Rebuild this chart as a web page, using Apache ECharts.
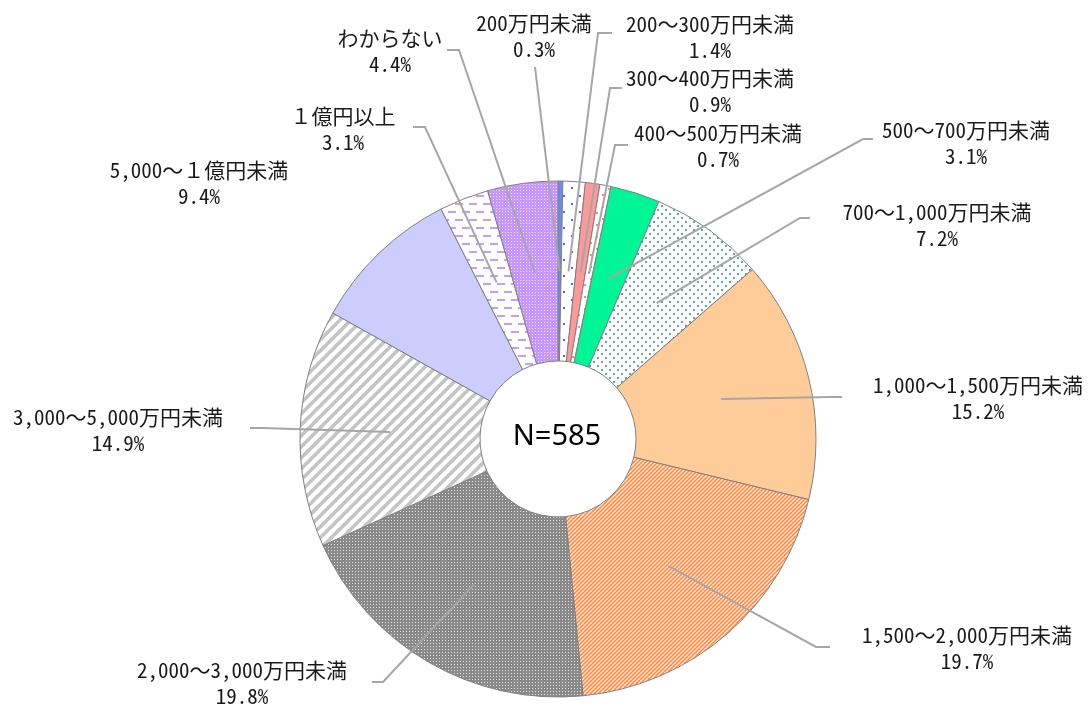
<!DOCTYPE html>
<html>
<head>
<meta charset="utf-8">
<script src="https://cdn.jsdelivr.net/npm/echarts@6/dist/echarts.min.js"></script>
<style>
  html, body { margin: 0; padding: 0; background: #ffffff; }
  #chart { width: 1090px; height: 707px; }
</style>
</head>
<body>
<div id="chart"></div>
<script>
// Household income brackets (clockwise from 12 o'clock) and their shares in %
const categories = [
  '200万円未満',
  '200～300万円未満',
  '300～400万円未満',
  '400～500万円未満',
  '500～700万円未満',
  '700～1,000万円未満',
  '1,000～1,500万円未満',
  '1,500～2,000万円未満',
  '2,000～3,000万円未満',
  '3,000～5,000万円未満',
  '5,000～１億円未満',
  '１億円以上',
  'わからない'
];
const shares = [0.3, 1.4, 0.9, 0.7, 3.1, 7.2, 15.2, 19.7, 19.8, 14.9, 9.4, 3.1, 4.4];
const sampleSize = 585;

// Ring geometry
const CX = 558, CY = 439, R_IN = 78, R_OUT = 258;

// Label placement: text block centre, then leader points (elbow, end)
const labelSpots = [
  { at: [534, 36],  line: [[535, 67], [535, 67]] },
  { at: [710, 37],  line: [[598, 33], [612, 33]] },
  { at: [710, 91],  line: [[610, 88], [622, 88]] },
  { at: [718, 146], line: [[615, 145], [628, 145]] },
  { at: [966, 143], line: [[863, 139], [873, 139]] },
  { at: [937, 225], line: [[800, 218], [810, 218]] },
  { at: [978, 398], line: [[830, 397], [842, 397]] },
  { at: [967, 648], line: [[816, 647], [830, 647]] },
  { at: [242, 683], line: [[383, 682], [372, 682]] },
  { at: [118, 430], line: [[262, 428], [250, 428]] },
  { at: [199, 183], line: null },
  { at: [343, 129], line: [[425, 127], [413, 127]] },
  { at: [390, 51],  line: [[459, 50], [447, 50]] }
];

// Tiled fills
function tile(w, h, draw) {
  const c = document.createElement('canvas');
  c.width = w; c.height = h;
  const g = c.getContext('2d');
  draw(g, w, h);
  return { image: c, repeat: 'repeat' };
}
function dots(w, h, bg, fg, r, pts) {
  return tile(w, h, function (g) {
    g.fillStyle = bg; g.fillRect(0, 0, w, h);
    g.fillStyle = fg;
    pts.forEach(function (p) { g.beginPath(); g.arc(p[0], p[1], r, 0, Math.PI * 2); g.fill(); });
  });
}
function stripes(size, bg, fg, lw) {
  return tile(size, size, function (g) {
    g.fillStyle = bg; g.fillRect(0, 0, size, size);
    g.strokeStyle = fg; g.lineWidth = lw; g.lineCap = 'square';
    [[-size, 0], [0, 0], [size, 0]].forEach(function (o) {
      g.beginPath();
      g.moveTo(o[0], size);
      g.lineTo(o[0] + size, 0);
      g.stroke();
    });
  });
}
function pixelGrid(bg, fg) {
  return tile(3, 3, function (g) {
    g.fillStyle = bg; g.fillRect(0, 0, 3, 3);
    g.fillStyle = fg; g.fillRect(1, 1, 1, 1);
  });
}
const dashes = tile(14, 16, function (g) {
  g.fillStyle = '#ffffff'; g.fillRect(0, 0, 14, 16);
  g.fillStyle = '#CC99FF';
  g.fillRect(0, 3, 8, 2);
  g.fillRect(7, 11, 8, 2);
  g.fillRect(-7, 11, 8, 2);
});

const fills = [
  '#6A8EEF',
  dots(16, 16, '#ffffff', '#6060F0', 1.2, [[4, 4], [12, 12]]),
  '#FF9999',
  dots(12, 12, '#ffffff', '#FF6666', 1.1, [[3, 3], [9, 9]]),
  '#00F596',
  dots(8, 8, '#ffffff', '#2A8A8A', 1.0, [[2, 2], [6, 6]]),
  '#FFCC99',
  stripes(4, '#ffffff', '#FF8A3D', 1.6),
  pixelGrid('#8A8A8A', '#E2E2E2'),
  stripes(11, '#ffffff', '#C4C4C4', 3.6),
  '#CCCCFF',
  dashes,
  pixelGrid('#C795FF', '#F3E8FF')
];

const ringData = categories.map(function (name, i) {
  return { name: name, value: shares[i], itemStyle: { color: fills[i] } };
});

// Same slices again, invisible, carrying labels and leaders above the ring
const labelData = categories.map(function (name, i) {
  const item = { name: name, value: shares[i] };
  if (!labelSpots[i].line) item.labelLine = { show: false };
  return item;
});

const chart = echarts.init(document.getElementById('chart'), null, { renderer: 'canvas' });

chart.setOption({
  animation: false,
  backgroundColor: '#ffffff',
  graphic: [{
    type: 'text',
    z: 10,
    style: {
      text: 'N=' + sampleSize,
      x: 557, y: 437,
      textAlign: 'center',
      textVerticalAlign: 'middle',
      font: '29px "Noto Sans", sans-serif',
      fill: '#000000'
    }
  }],
  series: [{
    type: 'pie',
    z: 2,
    center: [CX, CY],
    radius: [R_IN, R_OUT],
    startAngle: 90,
    clockwise: true,
    silent: true,
    itemStyle: { borderColor: '#808080', borderWidth: 1 },
    label: { show: false },
    labelLine: { show: false },
    data: ringData
  }, {
    type: 'pie',
    z: 4,
    center: [CX, CY],
    radius: [R_IN, R_OUT],
    startAngle: 90,
    clockwise: true,
    silent: true,
    avoidLabelOverlap: false,
    itemStyle: { color: 'rgba(0,0,0,0)', borderWidth: 0 },
    label: {
      show: true,
      position: 'outside',
      color: '#1a1a1a',
      fontSize: 21,
      lineHeight: 26,
      fontFamily: '"Noto Sans Mono CJK JP", "Noto Sans CJK JP", sans-serif',
      align: 'center',
      formatter: function (p) { return p.name + '\n' + p.value.toFixed(1) + '%'; }
    },
    labelLine: {
      show: true,
      smooth: false,
      lineStyle: { color: '#A6A6A6', width: 2 }
    },
    labelLayout: function (p) {
      const spot = labelSpots[p.dataIndex];
      const out = { x: spot.at[0], y: spot.at[1], align: 'center', verticalAlign: 'middle' };
      if (spot.line) {
        let ux, uy;
        if (p.labelLinePoints && p.labelLinePoints.length) {
          const p0 = p.labelLinePoints[0];
          const dx = p0[0] - CX, dy = p0[1] - CY;
          const len = Math.hypot(dx, dy) || 1;
          ux = dx / len; uy = dy / len;
        } else {
          const total = shares.reduce(function (a, b) { return a + b; }, 0);
          let before = 0;
          for (let k = 0; k < p.dataIndex; k++) before += shares[k];
          const mid = (before + shares[p.dataIndex] / 2) / total * Math.PI * 2;
          ux = Math.sin(mid); uy = -Math.cos(mid);
        }
        const rm = (R_IN + R_OUT) / 2;
        out.labelLinePoints = [[CX + ux * rm, CY + uy * rm]].concat(spot.line);
      }
      return out;
    },
    data: labelData
  }]
});
</script>
</body>
</html>
